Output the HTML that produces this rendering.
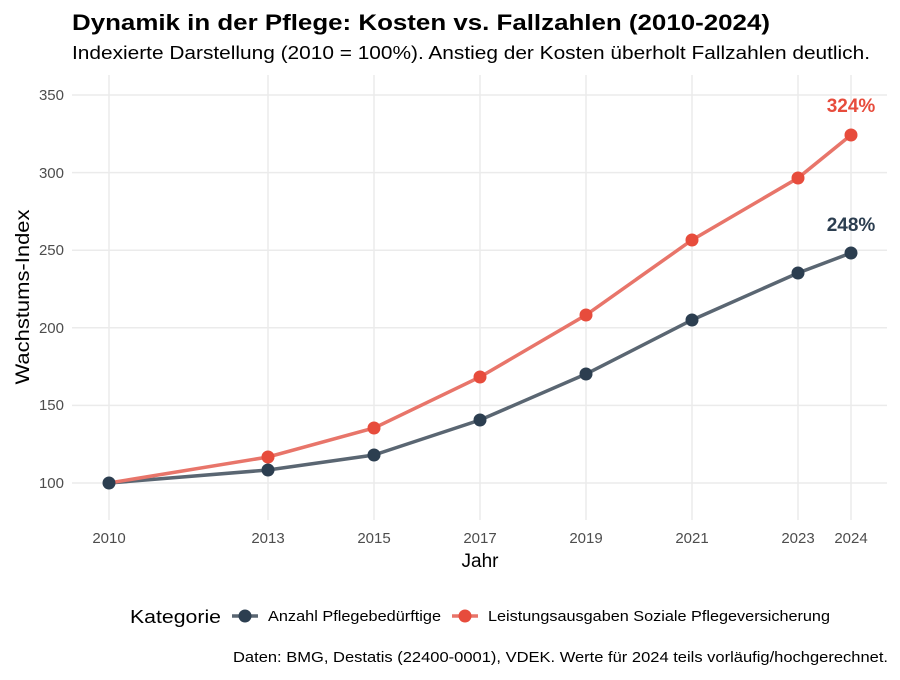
<!DOCTYPE html>
<html><head><meta charset="utf-8"><style>
body{margin:0;background:#fff;}
svg text{font-family:"Liberation Sans",Arial,sans-serif;}
</style></head><body>
<svg width="900" height="675" xmlns="http://www.w3.org/2000/svg">
<rect width="900" height="675" fill="#fff"/>
<text x="72" y="30" font-size="22" font-weight="bold" fill="#000" textLength="698" lengthAdjust="spacingAndGlyphs">Dynamik in der Pflege: Kosten vs. Fallzahlen (2010-2024)</text>
<text x="72" y="59" font-size="18" fill="#000" textLength="798" lengthAdjust="spacingAndGlyphs">Indexierte Darstellung (2010 = 100%). Anstieg der Kosten überholt Fallzahlen deutlich.</text>
<g stroke="#ebebeb" stroke-width="1.5">
<line x1="72" x2="887" y1="483" y2="483"/><line x1="72" x2="887" y1="405.4" y2="405.4"/>
<line x1="72" x2="887" y1="327.8" y2="327.8"/><line x1="72" x2="887" y1="250.2" y2="250.2"/>
<line x1="72" x2="887" y1="172.6" y2="172.6"/><line x1="72" x2="887" y1="95" y2="95"/>
<line x1="109" x2="109" y1="75" y2="520"/><line x1="268" x2="268" y1="75" y2="520"/>
<line x1="374" x2="374" y1="75" y2="520"/><line x1="480" x2="480" y1="75" y2="520"/>
<line x1="586" x2="586" y1="75" y2="520"/><line x1="692" x2="692" y1="75" y2="520"/>
<line x1="798" x2="798" y1="75" y2="520"/><line x1="851" x2="851" y1="75" y2="520"/>
</g>
<g font-size="15" fill="#4d4d4d" text-anchor="end">
<text x="64" y="488">100</text><text x="64" y="410">150</text><text x="64" y="333">200</text>
<text x="64" y="255">250</text><text x="64" y="178">300</text><text x="64" y="100">350</text>
</g>
<g font-size="15" fill="#4d4d4d" text-anchor="middle">
<text x="109" y="543">2010</text><text x="268" y="543">2013</text><text x="374" y="543">2015</text>
<text x="480" y="543">2017</text><text x="586" y="543">2019</text><text x="692" y="543">2021</text>
<text x="798" y="543">2023</text><text x="851" y="543">2024</text>
</g>
<text x="480" y="567" font-size="19" text-anchor="middle">Jahr</text>
<text transform="translate(29,297) rotate(-90)" font-size="19" text-anchor="middle" textLength="175" lengthAdjust="spacingAndGlyphs">Wachstums-Index</text>
<polyline fill="none" stroke="#5a6672" stroke-width="3.5" points="109,483 268,470 374,455 480,420 586,374 692,320 798,273 851,253"/>
<polyline fill="none" stroke="#e8756a" stroke-width="3.5" points="109,483 268,457 374,428 480,377 586,315 692,240 798,178 851,135"/>
<g fill="#e74c3c">
<circle cx="268" cy="457" r="6.5"/><circle cx="374" cy="428" r="6.5"/><circle cx="480" cy="377" r="6.5"/><circle cx="586" cy="315" r="6.5"/><circle cx="692" cy="240" r="6.5"/><circle cx="798" cy="178" r="6.5"/><circle cx="851" cy="135" r="6.5"/>
</g>
<g fill="#2c3e50">
<circle cx="109" cy="483" r="6.5"/><circle cx="268" cy="470" r="6.5"/><circle cx="374" cy="455" r="6.5"/><circle cx="480" cy="420" r="6.5"/><circle cx="586" cy="374" r="6.5"/><circle cx="692" cy="320" r="6.5"/><circle cx="798" cy="273" r="6.5"/><circle cx="851" cy="253" r="6.5"/>
</g>
<text x="851" y="231" font-size="19" font-weight="bold" fill="#2c3e50" text-anchor="middle">248%</text>
<text x="851" y="112" font-size="19" font-weight="bold" fill="#e74c3c" text-anchor="middle">324%</text>
<text x="130" y="623" font-size="18" textLength="91" lengthAdjust="spacingAndGlyphs">Kategorie</text>
<line x1="232" x2="258" y1="616" y2="616" stroke="#5a6672" stroke-width="3.5"/><circle cx="245" cy="616" r="6.5" fill="#2c3e50"/>
<text x="268" y="621" font-size="15" textLength="173" lengthAdjust="spacingAndGlyphs">Anzahl Pflegebedürftige</text>
<line x1="452" x2="478" y1="616" y2="616" stroke="#e8756a" stroke-width="3.5"/><circle cx="465" cy="616" r="6.5" fill="#e74c3c"/>
<text x="488" y="621" font-size="15" textLength="342" lengthAdjust="spacingAndGlyphs">Leistungsausgaben Soziale Pflegeversicherung</text>
<text x="233" y="662" font-size="15" textLength="655" lengthAdjust="spacingAndGlyphs">Daten: BMG, Destatis (22400-0001), VDEK. Werte für 2024 teils vorläufig/hochgerechnet.</text>
</svg>
</body></html>
